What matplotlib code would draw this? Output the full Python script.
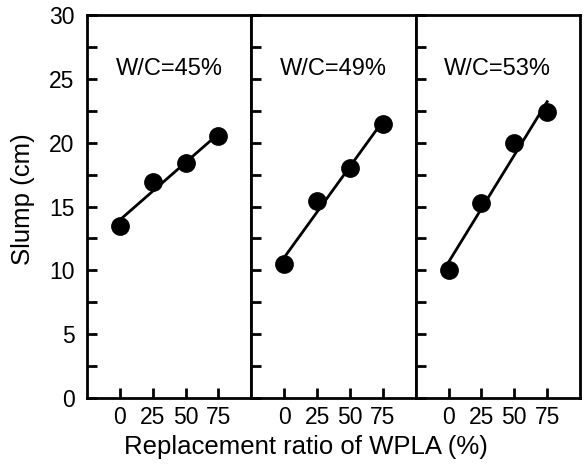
import matplotlib.pyplot as plt
import numpy as np

plt.rcParams['font.family'] = ['Liberation Sans', 'DejaVu Sans']

# dados
ratio = [0, 25, 50, 75]
wc_labels = ['W/C=45%', 'W/C=49%', 'W/C=53%']
slump_45 = [13.5, 16.9, 18.4, 20.5]
slump_49 = [10.5, 15.4, 18.0, 21.5]
slump_53 = [10.0, 15.3, 20.0, 22.4]
series = [slump_45, slump_49, slump_53]

fig, axes = plt.subplots(1, 3, sharey=True, figsize=(5.86, 4.66), dpi=100)
fig.subplots_adjust(left=0.1485, right=0.9898, bottom=0.1459, top=0.9678, wspace=0)

for i, ax in enumerate(axes):
    y = series[i]
    # linha de tendencia
    coef = np.polyfit(ratio, y, 1)
    xl = np.array([ratio[0], ratio[-1]])
    ax.plot(xl, np.polyval(coef, xl), color='black', lw=2, zorder=2)
    ax.plot(ratio, y, 'o', color='black', ms=12.5, zorder=3)
    ax.text(37.5, 25.8, wc_labels[i], ha='center', va='center', fontsize=17)

    ax.set_xlim(-25, 100)
    ax.set_ylim(0, 30)
    ax.set_xticks(ratio)
    ax.set_yticks(np.arange(0, 30.1, 2.5))
    ax.set_yticklabels(['0', '', '5', '', '10', '', '15', '', '20', '', '25', '', '30'])
    ax.tick_params(direction='in', length=7, width=2, labelsize=16.5, pad=9)
    ax.tick_params(axis='x', pad=6)
    ax.tick_params(axis='y', right=False, left=True)
    for s in ax.spines.values():
        s.set_linewidth(2)

axes[0].set_ylabel('Slump (cm)', fontsize=18.5)
axes[0].yaxis.set_label_coords(-0.315, 0.518)
axes[1].set_xlabel('Replacement ratio of WPLA (%)', fontsize=18.5)
axes[1].xaxis.set_label_coords(0.335, -0.097)

fig.savefig('out.png', dpi=100)
